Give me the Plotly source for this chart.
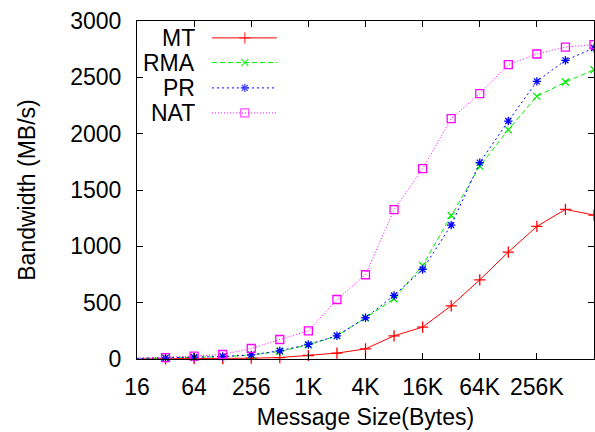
import plotly.graph_objects as go

sizes = [16, 32, 64, 128, 256, 512, 1024, 2048, 4096, 8192, 16384, 32768,
         65536, 131072, 262144, 524288, 1048576]
mt = [1, 1, 2, 3, 7, 13, 31, 52, 90, 206, 283, 472, 703, 949, 1177, 1328, 1277]
rma = [5, 8, 12, 20, 35, 68, 125, 205, 365, 535, 830, 1274, 1712, 2035, 2331, 2458, 2568]
pr = [5, 10, 16, 22, 37, 73, 129, 206, 366, 564, 795, 1188, 1743, 2112, 2464, 2651, 2760]
nat = [7, 13, 25, 40, 93, 173, 250, 528, 748, 1325, 1689, 2133, 2355, 2613, 2707, 2769, 2790]

xtick_vals = [16, 64, 256, 1024, 4096, 16384, 65536, 262144]
xtick_text = ["16", "64", "256", "1K", "4K", "16K", "64K", "256K"]
ytick_vals = [0, 500, 1000, 1500, 2000, 2500, 3000]

series = [
    ("MT", mt, "#ff0000", "solid", "cross-thin", 8),
    ("RMA", rma, "#00ee00", "5px,3px", "x-thin", 7),
    ("PR", pr, "#0000ff", "2px,3px", "asterisk", 7),
    ("NAT", nat, "#ff00ff", "1px,2px", "square-open", 8),
]

FONT = "Liberation Sans, Arial, Helvetica, sans-serif"
FS = 23
fig = go.Figure()
for name, vals, color, dash, sym, ms in series:
    fig.add_trace(go.Scatter(
        x=sizes, y=vals, mode="lines+markers", name=name,
        line=dict(color=color, width=1, dash=dash),
        marker=dict(symbol=sym, size=ms, color=color,
                    line=dict(color=color, width=1.3)),
        cliponaxis=False, showlegend=False))

# gnuplot-style key: text on the left, sample on the right
key_y = [0.950, 0.877, 0.802, 0.728]
for (name, vals, color, dash, sym, ms), ky in zip(series, key_y):
    fig.add_trace(go.Scatter(
        x=[0.164, 0.236, 0.306], y=[ky, ky, ky], mode="lines+markers",
        xaxis="x2", yaxis="y2", showlegend=False, hoverinfo="skip",
        line=dict(color=color, width=1, dash=dash),
        marker=dict(symbol=sym, size=[0, ms, 0], color=color,
                    line=dict(color=color, width=1.3))))
    fig.add_annotation(x=0.131, y=ky, xref="paper", yref="paper",
                       text=name, showarrow=False, xanchor="right",
                       yanchor="middle", height=22, valign="middle",
                       font=dict(family=FONT, size=FS, color="black"))

axis_common = dict(showline=True, linecolor="black", linewidth=1,
                   mirror="ticks", ticks="inside", ticklen=6,
                   tickcolor="black", tickwidth=1, showgrid=False,
                   zeroline=False,
                   tickfont=dict(family=FONT, size=FS, color="black"))

fig.update_layout(
    width=595, height=432,
    margin=dict(l=137, r=1, t=21, b=73),
    paper_bgcolor="white", plot_bgcolor="white",
    xaxis=dict(type="log", range=[1.20412, 6.0206],
               tickvals=xtick_vals, ticktext=xtick_text,
               title=dict(text="Message Size(Bytes)", standoff=10,
                          font=dict(family=FONT, size=FS, color="black")),
               ticklabelstandoff=7,
               **axis_common),
    yaxis=dict(range=[0, 3000], tickvals=ytick_vals,
               title=dict(text="Bandwidth (MB/s)", standoff=28,
                          font=dict(family=FONT, size=FS, color="black")),
               ticklabelstandoff=10,
               **axis_common),
    xaxis2=dict(range=[0, 1], overlaying="x", visible=False,
                domain=[0, 1], anchor="y2"),
    yaxis2=dict(range=[0, 1], overlaying="y", visible=False, anchor="x2"),
)

fig.write_html("out.html")
